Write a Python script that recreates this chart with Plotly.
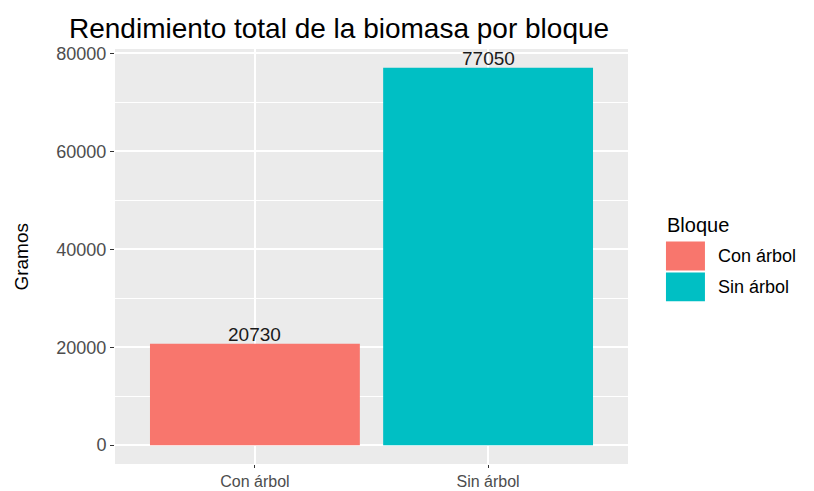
import plotly.graph_objects as go

# Datos
bloques = ["Con árbol", "Sin árbol"]
gramos = [20730, 77050]
colores = ["#F8766D", "#00BFC4"]
ticks_y = [0, 20000, 40000, 60000, 80000]
minor_y = [10000, 30000, 50000, 70000]

fig = go.Figure()

fig.add_trace(go.Bar(
    x=bloques, y=gramos, marker=dict(color=colores, line=dict(width=0)),
    width=0.9, showlegend=False, hoverinfo="x+y",
))

# Etiquetas sobre las barras
for b, g in zip(bloques, gramos):
    fig.add_annotation(x=b, y=g, text=str(g), showarrow=False, yanchor="bottom",
                       yshift=-3, font=dict(size=19, color="#1A1A1A"))

# Leyenda estilo ggplot
fig.add_annotation(xref="paper", yref="paper", x=1.072, y=0.577, xanchor="left", yanchor="middle",
                   text="Bloque", showarrow=False, font=dict(size=20, color="black"))
swatch_y = [(0.466, 0.536), (0.392, 0.4615)]
for (y0, y1), b, c in zip(swatch_y, bloques, colores):
    fig.add_shape(type="rect", xref="paper", yref="paper", x0=1.074, x1=1.150,
                  y0=y0, y1=y1, fillcolor=c, line=dict(width=0))
    fig.add_annotation(xref="paper", yref="paper", x=1.172, y=(y0 + y1) / 2, xanchor="left",
                       yanchor="middle", text=b, showarrow=False, font=dict(size=18, color="black"))

# Título del eje Y
fig.add_annotation(xref="paper", yref="paper", x=-0.183, y=0.5, textangle=-90, text="Gramos",
                   showarrow=False, xanchor="center", yanchor="middle",
                   font=dict(size=19, color="black"))

# la página añade 8 px de margen al cuerpo
fig.update_layout(
    width=806, height=483,
    margin=dict(l=107, r=186, t=41, b=27),
    paper_bgcolor="white", plot_bgcolor="#EBEBEB",
    font=dict(family="Liberation Sans, Arial", color="#4D4D4D"),
    title=dict(text="Rendimiento total de la biomasa por bloque", x=61 / 806, xanchor="left",
               y=0.959, yanchor="middle", font=dict(size=28, color="black")),
)
fig.update_xaxes(
    range=[-0.6, 1.6], showgrid=True, gridcolor="white", gridwidth=1.5, automargin=False,
    ticks="outside", ticklen=3, tickcolor="#333333", tickfont=dict(size=16, color="#4D4D4D"),
    zeroline=False,
)
fig.update_yaxes(
    range=[-3852.5, 80902.5], tickvals=ticks_y, ticktext=[str(v) for v in ticks_y],
    showgrid=True, gridcolor="white", gridwidth=1.5, automargin=False,
    minor=dict(tickvals=minor_y, showgrid=True, gridcolor="white", gridwidth=0.7),
    ticks="outside", ticklen=4, tickcolor="#333333", tickfont=dict(size=18, color="#4D4D4D"),
    zeroline=False,
)

fig.write_html("out.html")
